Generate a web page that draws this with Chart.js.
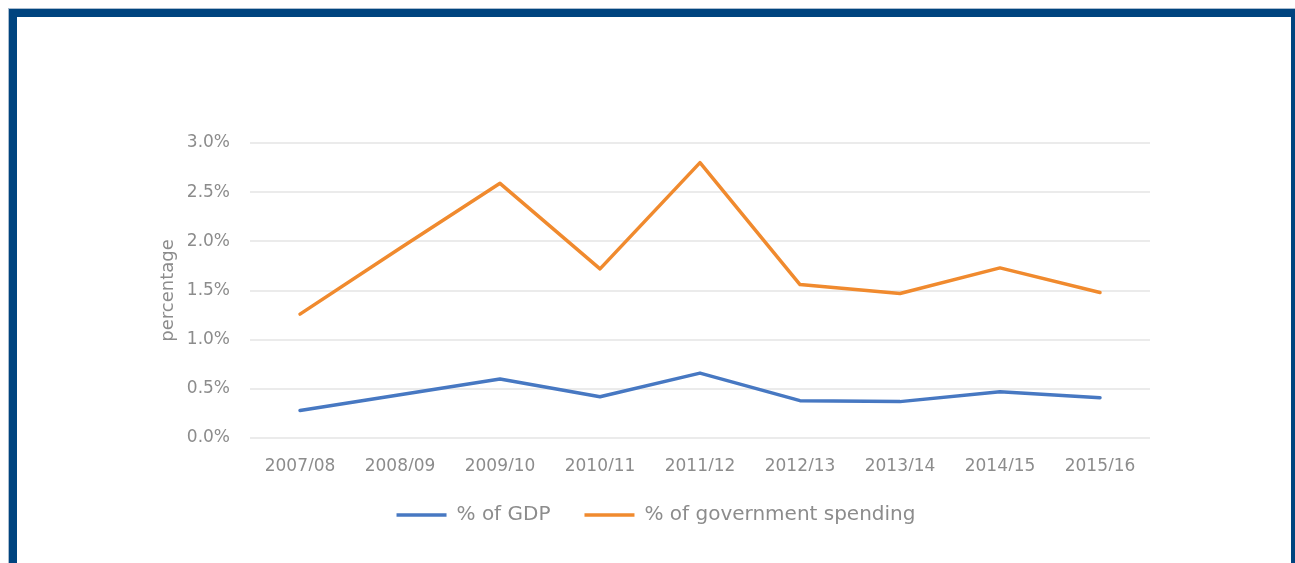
<!DOCTYPE html>
<html>
<head>
<meta charset="utf-8">
<title>Share of GDP and government spending</title>
<script src="https://cdn.jsdelivr.net/npm/chart.js@4/dist/chart.umd.min.js"></script>
<style>
  html, body { margin:0; padding:0; background:#fff; overflow:hidden; }
  body { width:1295px; height:563px; position:relative; }
  .frame {
    position:absolute; left:9px; top:9px;
    width:1274px; height:700px;
    border:8px solid #00447f;
    box-shadow:0 0 0 1px #a9bccf;
    background:#fff;
  }
  .chart-box { position:absolute; left:0; top:0; width:1295px; height:563px; }
</style>
</head>
<body>
<div class="frame"></div>
<div class="chart-box"><canvas id="chart-share"></canvas></div>
<script>
// valores por ano fiscal (em %)
const years = ['2007/08','2008/09','2009/10','2010/11','2011/12','2012/13','2013/14','2014/15','2015/16'];
const gdpShare = [0.28, 0.44, 0.60, 0.42, 0.66, 0.38, 0.37, 0.47, 0.41];
const spendShare = [1.26, 1.93, 2.59, 1.72, 2.80, 1.56, 1.47, 1.73, 1.48];
const yTicks = { min: 0, max: 3, step: 0.5 };

const FONT = 'DejaVu Sans';
const GREY = '#8c8c8c';

// empurra a legenda um pouco para a direita
const legendShift = {
  id: 'legendShift',
  afterLayout(chart) {
    const lg = chart.legend;
    if (lg) { lg.left += 6; lg.right += 6; }
  }
};

function initChart() {
  const ctx = document.getElementById('chart-share').getContext('2d');
  return new Chart(ctx, {
    type: 'line',
    data: {
      labels: years,
      datasets: [
        { label: '% of GDP', data: gdpShare, borderColor: '#4778c2', backgroundColor: '#4778c2',
          borderWidth: 3.5, pointRadius: 0, tension: 0, borderJoinStyle: 'round', borderCapStyle: 'round' },
        { label: '% of government spending', data: spendShare, borderColor: '#f08a2e', backgroundColor: '#f08a2e',
          borderWidth: 3.5, pointRadius: 0, tension: 0, borderJoinStyle: 'round', borderCapStyle: 'round' }
      ]
    },
    options: {
      responsive: true, maintainAspectRatio: false, animation: false,
      layout: { padding: { left: 150, right: 145, top: 143, bottom: 28 } },
      scales: {
        x: {
          offset: true,
          grid: { display: false, drawTicks: false },
          border: { display: false },
          ticks: { color: GREY, font: { family: FONT, size: 17 }, padding: 18, maxRotation: 0, autoSkip: false },
          afterFit: s => { s.height = 33; }
        },
        y: {
          min: yTicks.min, max: yTicks.max,
          grid: { color: '#ebebeb', lineWidth: 2, drawTicks: false },
          border: { display: false },
          ticks: { stepSize: yTicks.step, color: GREY, font: { family: FONT, size: 17 }, padding: 20,
                   callback: v => Number(v).toFixed(1) + '%' },
          title: { display: true, text: 'percentage', color: GREY, font: { family: FONT, size: 18 }, padding: { top: 8, bottom: 0 } },
          afterFit: s => { s.width = 100; }
        }
      },
      plugins: {
        legend: {
          position: 'bottom',
          labels: { usePointStyle: true, pointStyle: 'line', pointStyleWidth: 50, color: GREY,
                    font: { family: FONT, size: 20 }, padding: 34 }
        },
        tooltip: { enabled: false }
      }
    },
    plugins: [legendShift]
  });
}

document.addEventListener('DOMContentLoaded', initChart);
</script>
</body>
</html>
